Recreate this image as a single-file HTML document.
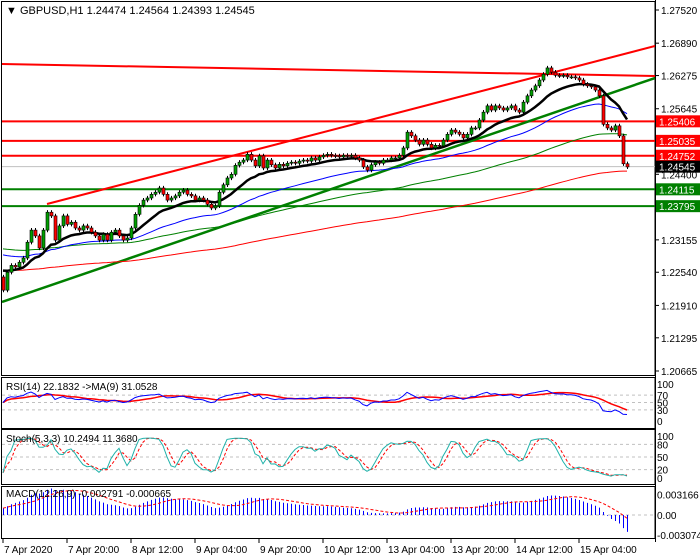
<!DOCTYPE html>
<html><head><meta charset="utf-8"><style>
html,body{margin:0;padding:0;background:#fff;}
svg{display:block;font-family:"Liberation Sans",sans-serif;}
</style></head><body>
<svg id="c" width="700" height="560" viewBox="0 0 700 560"></svg>
<script>
// ---- data ----
const closes = [1.2220,1.2254,1.2267,1.2264,1.2273,1.2281,1.2311,1.2334,1.2323,1.2300,
1.2334,1.2368,1.2361,1.2315,1.2342,1.2361,1.2345,1.2349,1.2338,1.2334,
1.2342,1.2338,1.2330,1.2323,1.2315,1.2326,1.2315,1.2330,1.2334,1.2323,
1.2315,1.2319,1.2338,1.2364,1.2381,1.2391,1.2395,1.2402,1.2406,1.2414,
1.2402,1.2391,1.2395,1.2399,1.2406,1.2410,1.2402,1.2399,1.2391,1.2395,
1.2391,1.2383,1.2376,1.2380,1.2406,1.2420,1.2433,1.2440,1.2457,1.2463,
1.2467,1.2478,1.2467,1.2456,1.2475,1.2452,1.2467,1.2458,1.2452,1.2459,
1.2456,1.2461,1.2463,1.2461,1.2465,1.2467,1.2465,1.2471,1.2467,1.2473,
1.2476,1.2478,1.2476,1.2475,1.2473,1.2476,1.2475,1.2476,1.2471,1.2467,
1.2454,1.2448,1.2458,1.2463,1.2461,1.2467,1.2467,1.2471,1.2471,1.2476,
1.2490,1.2520,1.2513,1.2505,1.2497,1.2505,1.2497,1.2490,1.2495,1.2494,
1.2505,1.2516,1.2524,1.2520,1.2516,1.2509,1.2516,1.2528,1.2528,1.2543,
1.2558,1.2570,1.2562,1.2570,1.2566,1.2562,1.2566,1.2570,1.2562,1.2558,
1.2577,1.2589,1.2600,1.2608,1.2619,1.2630,1.2642,1.2634,1.2628,1.2627,
1.2628,1.2625,1.2625,1.2623,1.2619,1.2611,1.2608,1.2606,1.2600,1.2589,
1.2535,1.2528,1.2524,1.2532,1.2513,1.2460,1.2454];
const firstOpen = 1.2245;
const priceTicks = ["1.27520","1.26890","1.26275","1.25645","1.24400","1.23155","1.22540","1.21910","1.21295","1.20665"];
const redLevels = [1.25406,1.25035,1.24752];
const greenLevels = [1.24115,1.23795];
const lastPrice = 1.24545;
const dateLabels = ["7 Apr 2020","7 Apr 20:00","8 Apr 12:00","9 Apr 04:00","9 Apr 20:00","10 Apr 12:00","13 Apr 04:00","13 Apr 20:00","14 Apr 12:00","15 Apr 04:00"];
const dateBars = [0,16,32,48,64,80,96,112,128,144];
const maSeeds = [1.2262,1.2290,1.2300,1.2258];

// ---- helpers ----
const svg = document.getElementById('c');
const NS = 'http://www.w3.org/2000/svg';
function mk(tag, attrs, parent){const e=document.createElementNS(NS,tag);for(const k in attrs)e.setAttribute(k,attrs[k]);(parent||svg).appendChild(e);return e;}
const PR = 655;
const xBar = i => 3 + 4*i;
const yP = p => 10 + (1.27520 - p)*5266;
const yRsi = v => 421 - v*0.37;
const ySto = v => 478 - v*0.42;
const yMacd = v => 515 - v*6500;

// frames
const f1=mk('rect',{x:1.5,y:1.5,width:PR-1.5,height:374,fill:'none',stroke:'#000'});


[[377,51,'rsi-panel'],[429,55,'stoch-panel'],[486,52,'macd-panel']].forEach(a=>{
  const r=mk('rect',{x:1.5,y:a[0]+.5,width:PR-1.5,height:a[1],fill:'none',stroke:'#000'});
  
  
});
mk('line',{x1:PR+.5,y1:0,x2:PR+.5,y2:542,stroke:'#000'});

const clip = mk('clipPath',{id:'cp'}); mk('rect',{x:2,y:2,width:PR-2,height:373},clip);
const g = mk('g',{'clip-path':'url(#cp)'});



// horizontal levels
mk('line',{x1:2,x2:PR,y1:yP(lastPrice),y2:yP(lastPrice),stroke:'#c0c0c0'},g);
redLevels.forEach(p=>{const l=mk('line',{x1:2,x2:PR,y1:yP(p),y2:yP(p),stroke:'#ff0000','stroke-width':2},g);
  
  });
greenLevels.forEach(p=>{const l=mk('line',{x1:2,x2:PR,y1:yP(p),y2:yP(p),stroke:'#008000','stroke-width':2},g);
  
  });
// trend lines
const t1=mk('line',{x1:47,y1:204,x2:PR,y2:46,stroke:'#ff0000','stroke-width':2},g);


const t2=mk('line',{x1:2,y1:64,x2:PR,y2:76,stroke:'#ff0000','stroke-width':2},g);


const t3=mk('line',{x1:2,y1:302,x2:PR,y2:78,stroke:'#008000','stroke-width':2.5},g);



// moving averages (EMA)
function ema(arr, n, seed){const a=2/(n+1);let v=seed;return arr.map(c=>v=v+a*(c-v));}
const maDefs=[[200,maSeeds[3],'#ff0000',1,'ma-200'],[100,maSeeds[2],'#008000',1,'ma-100'],[45,maSeeds[1],'#0000ff',1,'ma-45'],[16,maSeeds[0],'#000',2.5,'ma-16']];
maDefs.forEach(d=>{const v=ema(closes,d[0],d[1]);
  const p=mk('polyline',{points:v.map((y,i)=>xBar(i)+','+yP(y).toFixed(1)).join(' '),fill:'none',stroke:d[2],'stroke-width':d[3]},g);
  
  });

// candles
const highs=[],lows=[];
closes.forEach((c,i)=>{
  const o = i===0?firstOpen:closes[i-1];
  const h = Math.max(o,c)+0.0004, l = Math.min(o,c)-0.0004;
  highs.push(h); lows.push(l);
  const x=xBar(i);
  const w=mk('line',{x1:x+.5,x2:x+.5,y1:yP(h),y2:yP(l),stroke:'#000'},g);
  
  
  const top=yP(Math.max(o,c)), bh=Math.max(1,yP(Math.min(o,c))-top);
  const b=mk('rect',{x:x-1,y:top,width:3,height:bh,fill:c>=o?'#00a000':'#ff0000',stroke:'#000','stroke-width':.6},g);
  
  
});

// header
const hd=mk('text',{x:6,y:14,'font-size':11,fill:'#000'});hd.textContent='▼ GBPUSD,H1  1.24474 1.24564 1.24393 1.24545';



// price axis
priceTicks.forEach(t=>{const y=yP(parseFloat(t));
  mk('line',{x1:PR,x2:PR+4,y1:y,y2:y,stroke:'#000'});
  const tx=mk('text',{x:661,y:y+4,'font-size':10,fill:'#000'});tx.textContent=t;
  
  });
function box(p,col,name){const y=yP(p);
  const r=mk('rect',{x:656,y:y-6,width:44,height:12,fill:col});
  
  
  const t=mk('text',{x:659,y:y+4,'font-size':10,fill:'#fff'});t.textContent=p.toFixed(5);
  
  }
redLevels.forEach(p=>box(p,'#ff0000','resistance-label'));
box(lastPrice,'#000','last-price-label');
greenLevels.forEach(p=>box(p,'#008000','support-label'));

// ---- RSI ----
function rsi(arr,n){let ag=0,al=0;const out=[];for(let i=0;i<arr.length;i++){const d=i?arr[i]-arr[i-1]:0;const gn=Math.max(d,0),ls=Math.max(-d,0);
  if(i===0){ag=0.0004;al=0.0004;}else{ag=(ag*(n-1)+gn)/n;al=(al*(n-1)+ls)/n;}out.push(100-100/(1+ag/(al||1e-9)));}return out;}
function sma(arr,n){return arr.map((v,i)=>{const s=arr.slice(Math.max(0,i-n+1),i+1);return s.reduce((a,b)=>a+b,0)/s.length;});}
const rv=rsi(closes,14), rm=sma(rv,9);
[70,50,30].forEach(v=>mk('line',{x1:2,x2:PR,y1:yRsi(v),y2:yRsi(v),stroke:'#c0c0c0','stroke-dasharray':'3,3'}));
function pl(vals,yf,col,name,dash,w){const p=mk('polyline',{points:vals.map((v,i)=>xBar(i)+','+yf(v).toFixed(1)).join(' '),fill:'none',stroke:col,'stroke-width':w||1});
  if(dash)p.setAttribute('stroke-dasharray',dash);
  
  }
pl(rm,yRsi,'#ff0000','rsi-ma-line',null,1.5);
pl(rv,yRsi,'#0000ff','rsi-line');
const rl=mk('text',{x:6,y:390,'font-size':10});rl.textContent='RSI(14) 22.1832  ->MA(9) 31.0528';


[100,70,50,30,0].forEach(v=>{const t=mk('text',{x:657,y:yRsi(v)+4,'font-size':10});t.textContent=v;
  
  });

// ---- Stochastic ----
const kRaw=closes.map((c,i)=>{const hh=Math.max(...highs.slice(Math.max(0,i-4),i+1)),ll=Math.min(...lows.slice(Math.max(0,i-4),i+1));return 100*(c-ll)/(hh-ll);});
const kv=sma(kRaw,3), dv=sma(kv,3);
[80,50,20].forEach(v=>mk('line',{x1:2,x2:PR,y1:ySto(v),y2:ySto(v),stroke:'#c0c0c0','stroke-dasharray':'3,3'}));
pl(dv,ySto,'#ff0000','stoch-signal-line','3,2');
pl(kv,ySto,'#20b2aa','stoch-main-line');
const sl=mk('text',{x:6,y:442,'font-size':10});sl.textContent='Stoch(5,3,3) 10.2494 11.3680';


[100,80,50,20,0].forEach(v=>{const t=mk('text',{x:657,y:ySto(v)+4,'font-size':10});t.textContent=v;
  
  });

// ---- MACD ----
const e12=ema(closes,12,closes[0]-0.0015), e26=ema(closes,26,closes[0]-0.0025);
const macd=e12.map((v,i)=>v-e26[i]), sig=sma(macd,9);
mk('line',{x1:2,x2:PR,y1:yMacd(0),y2:yMacd(0),stroke:'#c0c0c0','stroke-dasharray':'3,3'});
macd.forEach((v,i)=>{const y=Math.max(488,Math.min(537,yMacd(v)));
  const b=mk('line',{x1:xBar(i)+.5,x2:xBar(i)+.5,y1:yMacd(0),y2:y,stroke:'#0000ff'});
  
  });
pl(sig,v=>Math.max(488,Math.min(537,yMacd(v))),'#ff0000','macd-signal-line','3,2');
const ml=mk('text',{x:6,y:497,'font-size':10});ml.textContent='MACD(12,26,9) -0.002791 -0.000665';


[["0.003166",0.003166],["0.00",0],["-0.003074",-0.003074]].forEach(a=>{const t=mk('text',{x:657,y:yMacd(a[1])+4,'font-size':10});t.textContent=a[0];
  
  });

// ---- date axis ----
mk('line',{x1:1,x2:PR,y1:538.5,y2:538.5,stroke:'#000'});
dateLabels.forEach((d,k)=>{const x=xBar(dateBars[k]);
  mk('line',{x1:x,x2:x,y1:538,y2:543,stroke:'#000'});
  const t=mk('text',{x:x+1,y:553,'font-size':10});t.textContent=d;
  
  });
</script>
</body></html>
